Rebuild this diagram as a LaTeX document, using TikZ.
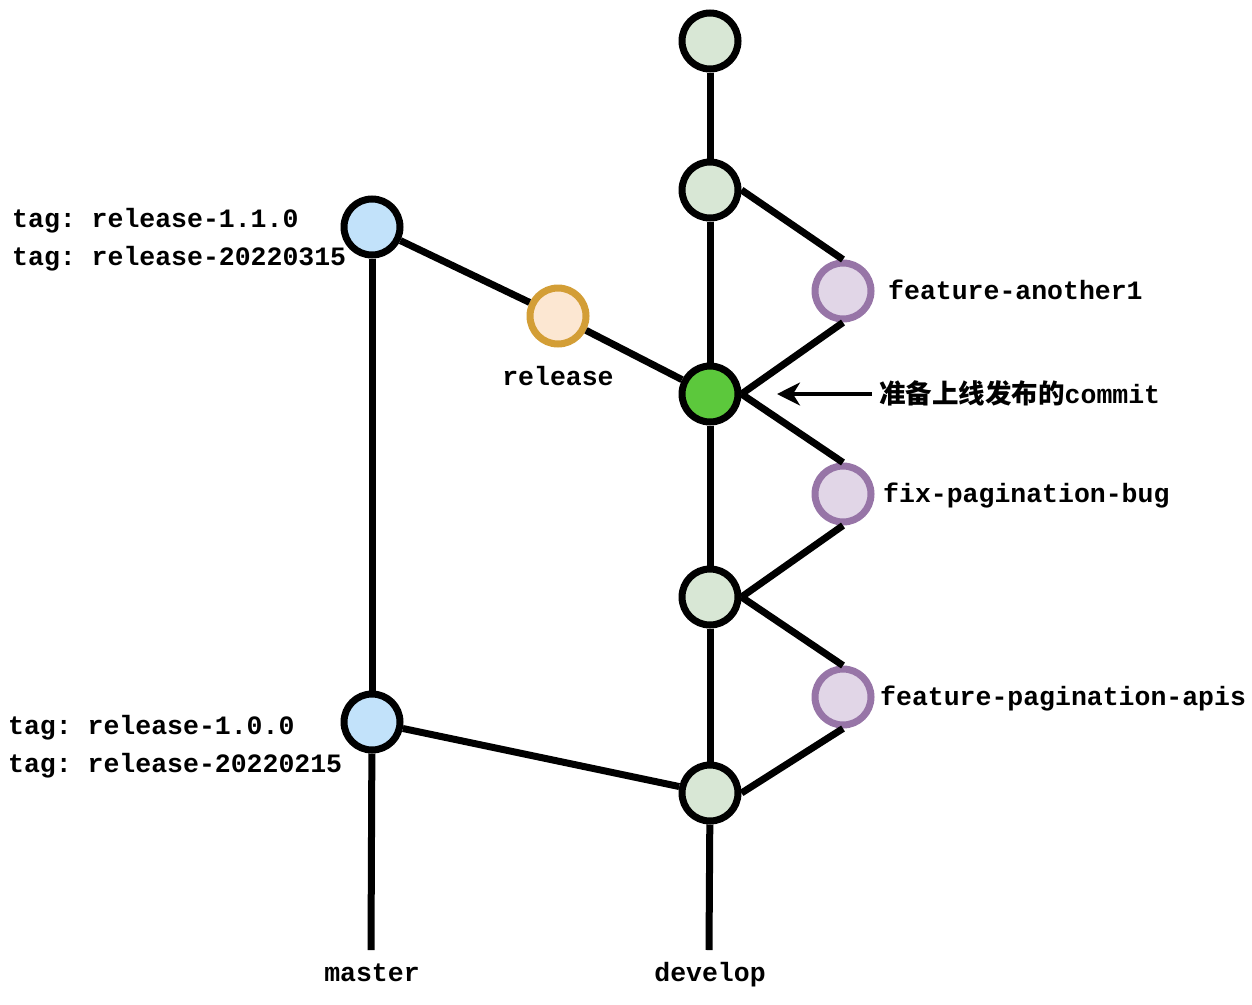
\documentclass[tikz,border=0pt]{standalone}
\usepackage{fontspec}
\setmainfont{Liberation Mono}
\newfontfamily\cjk{Noto Sans CJK SC}
\usetikzlibrary{arrows.meta}
\frenchspacing
\definecolor{cgreenf}{HTML}{D8E7D5}
\definecolor{cbluef}{HTML}{C2E2FA}
\definecolor{corangef}{HTML}{FCE7D2}
\definecolor{coranged}{HTML}{D39E36}
\definecolor{cpurplef}{HTML}{E1D6E7}
\definecolor{cpurpled}{HTML}{9775A7}
\definecolor{cbright}{HTML}{5CC83C}
\tikzset{
  commit/.style={circle, minimum size=56pt, inner sep=0pt, line width=7pt},
  devc/.style={commit, draw=black, fill=cgreenf},
  masc/.style={commit, draw=black, fill=cbluef},
  relc/.style={commit, draw=coranged, fill=corangef},
  feac/.style={commit, draw=cpurpled, fill=cpurplef},
  hotc/.style={commit, draw=black, fill=cbright},
  edge/.style={line width=7pt},
  lbl/.style={font=\fontsize{26.5}{30}\selectfont\bfseries, inner sep=0pt},
}
\begin{document}
\begin{tikzpicture}[x=1pt,y=-1pt]
\frenchspacing
\useasboundingbox (0,0) rectangle (1252,1004);
% nodes
\node[devc] (d1) at (710,41) {};
\node[devc] (d2) at (710,190) {};
\node[hotc] (dg) at (710,394) {};
\node[devc] (d3) at (710,597) {};
\node[devc] (d4) at (710,793) {};
\node[masc] (m1) at (372,227) {};
\node[masc] (m2) at (372,722) {};
\node[relc] (r) at (558,316) {};
\node[feac] (f1) at (843,291) {};
\node[feac] (f2) at (843,494) {};
\node[feac] (f3) at (843,697) {};
\coordinate (mend) at (371,950);
\coordinate (dend) at (709,950);
% edges
\draw[edge] (d1) -- (d2);
\draw[edge] (d2) -- (dg);
\draw[edge] (dg) -- (d3);
\draw[edge] (d3) -- (d4);
\draw[edge] (d4) -- (dend);
\draw[edge] (d2.east) -- (f1.north);
\draw[edge] (f1.south) -- (dg.east);
\draw[edge] (dg.east) -- (f2.north);
\draw[edge] (f2.south) -- (d3.east);
\draw[edge] (d3.east) -- (f3.north);
\draw[edge] (f3.south) -- (d4.east);
\draw[edge] (m1) -- (m2);
\draw[edge] (m2) -- (mend);
\draw[edge] (m1) -- (r);
\draw[edge] (r) -- (dg);
\draw[edge] (m2) -- (d4);
% labels
\node[lbl, anchor=base west] (t1) at (12,227) {tag: release-1.1.0};
\node[lbl, anchor=base west] (t2) at (12,265) {tag: release-20220315};
\node[lbl, anchor=base west] (t3) at (8,734) {tag: release-1.0.0};
\node[lbl, anchor=base west] (t4) at (8,772) {tag: release-20220215};
\node[lbl, anchor=base] (lr) at (558,385) {release};
\node[lbl, anchor=base west] (lf1) at (888,299) {feature-another1};
\node[lbl, anchor=base west] (lf2) at (883,502) {fix-pagination-bug};
\node[lbl, anchor=base west] (lf3) at (880,705) {feature-pagination-apis};
\node[lbl, anchor=base] (lm) at (372,981) {master};
\node[lbl, anchor=base] (ld) at (710,981) {develop};
\node[lbl, anchor=base west] (lc) at (879,403) {{\cjk\bfseries 准备上线发布的}commit};
\coordinate (ah) at (777,394);
\coordinate (at) at (872,394);
\draw[line width=3.5pt, -{Stealth[length=23pt,width=23pt,inset=7pt]}] (at) -- (ah);
\end{tikzpicture}
\end{document}
